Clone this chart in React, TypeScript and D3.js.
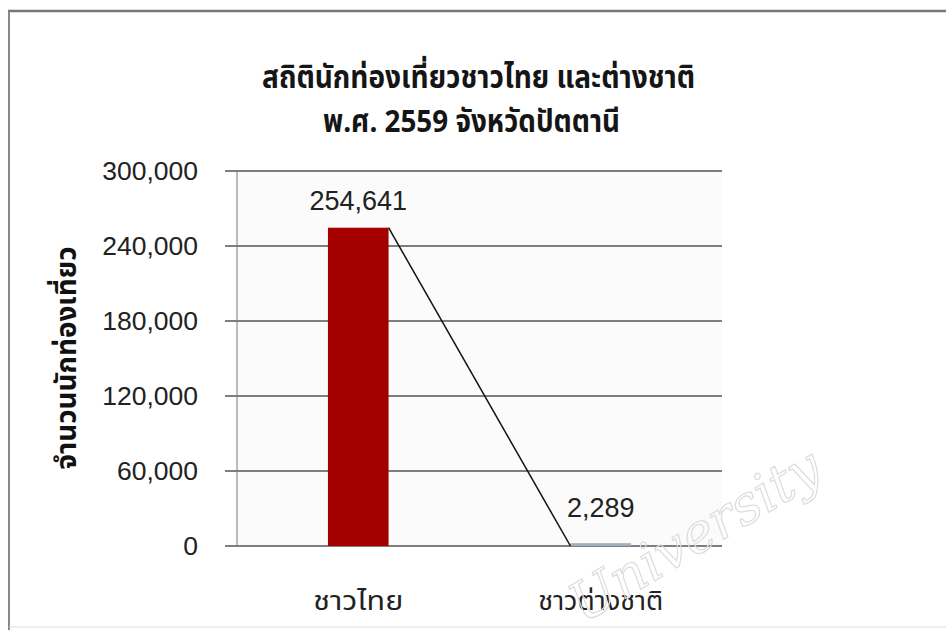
import React from "react";
import * as d3 from "d3";

const categories = ["ชาวไทย", "ชาวต่างชาติ"];
const values = [254641, 2289];
const valueLabels = ["254,641", "2,289"];
const yTicks = [0, 60000, 120000, 180000, 240000, 300000];
const titleLines = ["สถิตินักท่องเที่ยวชาวไทย และต่างชาติ", "พ.ศ. 2559 จังหวัดปัตตานี"];
const yAxisTitle = "จำนวนนักท่องเที่ยว";
const barColors = ["#a50000", "#9fb0c2"];
const watermark = "University";

export default function App() {
  const W = 946, H = 630;
  const left = 237, right = 722, top = 171, bottom = 546;
  const x = d3.scaleBand<string>().domain(categories).range([left, right]).paddingInner(0.75).paddingOuter(0.375);
  const y = d3.scaleLinear().domain([0, 300000]).range([bottom, top]);
  const fmt = d3.format(",");
  const thai = "'Noto Sans Thai', 'Noto Sans', 'DejaVu Sans', sans-serif";
  const num = "'Liberation Sans', Arial, sans-serif";
  const bw = x.bandwidth();
  const p1x = (x(categories[0]) as number) + bw;
  const p2x = x(categories[1]) as number;
  const titleLens = [433, 297];
  const catLens = [90, 125];
  return (
    <svg width={W} height={H} style={{ position: "absolute", left: 0, top: 0, background: "#fff" }}>
      <rect x={0} y={0} width={W} height={H} fill="#fff" />
      <line x1={8} y1={11} x2={W} y2={11} stroke="#777" strokeWidth={2.5} />
      <line x1={9} y1={11} x2={9} y2={H} stroke="#888" strokeWidth={2} />
      <line x1={9} y1={627} x2={W} y2={627} stroke="#ddd" strokeWidth={1} />
      <rect x={left} y={top} width={right - left} height={bottom - top} fill="#fbfbfb" />
      {titleLines.map((t, i) => (
        <text key={t} x={i === 0 ? 478.5 : 471.5} y={88 + i * 44} textAnchor="middle" fontSize={31} fontWeight="bold" fill="#151515" fontFamily={thai} textLength={titleLens[i]} lengthAdjust="spacingAndGlyphs">{t}</text>
      ))}
      {yTicks.map((t) => (
        <g key={t}>
          <line x1={left - 12} x2={right} y1={y(t)} y2={y(t)} stroke="#555" strokeWidth={1.5} />
          <text x={198} y={y(t)} dy="0.35em" textAnchor="end" fontSize={26.5} fill="#222" fontFamily={num}>{fmt(t)}</text>
        </g>
      ))}
      <line x1={left} x2={left} y1={top} y2={bottom} stroke="#777" strokeWidth={1} />
      {categories.map((c, i) => (
        <g key={c}>
          <rect x={x(c)} y={y(values[i])} width={bw} height={bottom - y(values[i])} fill={barColors[i]} />
          <text x={(x(c) as number) + bw / 2} y={Math.min(y(values[i]) - 18, bottom - 29)} textAnchor="middle" fontSize={27} fill="#222" fontFamily={num}>{valueLabels[i]}</text>
          <text x={(x(c) as number) + bw / 2} y={610} textAnchor="middle" fontSize={27} fill="#222" fontFamily={thai} textLength={catLens[i]} lengthAdjust="spacingAndGlyphs">{c}</text>
        </g>
      ))}
      <line x1={p1x} y1={y(values[0])} x2={p2x} y2={bottom} stroke="#111" strokeWidth={1.5} />
      <text transform={`translate(76,358) rotate(-90)`} textAnchor="middle" fontSize={28} fontWeight="bold" fill="#111" fontFamily={thai} textLength={223} lengthAdjust="spacingAndGlyphs">{yAxisTitle}</text>
      <text transform="translate(826,478) rotate(-31)" textAnchor="end" fontSize={54} fontStyle="italic" fontFamily="'DejaVu Serif', serif" fill="none" stroke="#dcdcdc" strokeWidth={1.2}>{watermark}</text>
    </svg>
  );
}
